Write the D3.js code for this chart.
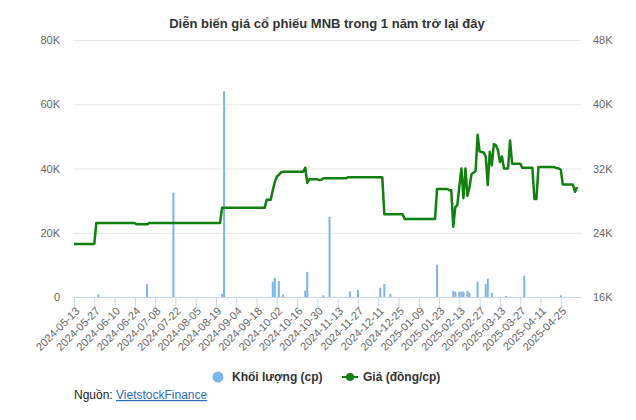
<!DOCTYPE html>
<html><head><meta charset="utf-8">
<script src="https://cdnjs.cloudflare.com/ajax/libs/d3/7.8.5/d3.min.js"></script>
<style>
body{margin:0;background:#fff;}
svg{display:block;font-family:"Liberation Sans",Arial,Helvetica,sans-serif;}
</style></head><body>
<svg id="chart" width="636" height="420"></svg>
<script>
const title = "Diễn biến giá cổ phiếu MNB trong 1 năm trở lại đây";
const tickLabels = ["2024-05-13","2024-05-27","2024-06-10","2024-06-24","2024-07-08","2024-07-22","2024-08-05","2024-08-19","2024-09-04","2024-09-18","2024-10-02","2024-10-16","2024-10-30","2024-11-13","2024-11-27","2024-12-11","2024-12-25","2025-01-09","2025-01-23","2025-02-13","2025-02-27","2025-03-13","2025-03-27","2025-04-11","2025-04-25"];
// price, thousand VND per share, one value per trading day
const priceK = [
22.6,22.6,22.6,22.6,22.6,22.6,22.6,22.6,22.6,22.6,
22.6,25.2,25.2,25.2,25.2,25.2,25.2,25.2,25.2,25.2,
25.2,25.2,25.2,25.2,25.2,25.2,25.2,25.2,25.2,25.2,
25.2,25.05,25.05,25.05,25.05,25.05,25.05,25.2,25.2,25.2,
25.2,25.2,25.2,25.2,25.2,25.2,25.2,25.2,25.2,25.2,
25.2,25.2,25.2,25.2,25.2,25.2,25.2,25.2,25.2,25.2,
25.2,25.2,25.2,25.2,25.2,25.2,25.2,25.2,25.2,25.2,
25.2,25.2,25.2,27.1,27.1,27.1,27.1,27.1,27.1,27.1,
27.1,27.1,27.1,27.1,27.1,27.1,27.1,27.1,27.1,27.1,
27.1,27.1,27.1,27.1,27.1,28.1,28.1,28.1,29.3,30.3,
31.0,31.2,31.5,31.6,31.6,31.6,31.6,31.6,31.6,31.6,
31.6,31.6,31.6,31.6,32.1,30.2,30.65,30.65,30.65,30.65,
30.65,30.55,30.6,30.78,30.78,30.78,30.78,30.78,30.78,30.78,
30.78,30.78,30.78,30.78,30.78,30.9,30.9,30.9,30.9,30.9,
30.9,30.9,30.9,30.9,30.9,30.9,30.9,30.9,30.9,30.9,
30.9,30.9,30.9,26.3,26.3,26.3,26.3,26.3,26.3,26.3,
26.3,26.3,26.3,25.7,25.7,25.7,25.7,25.7,25.7,25.7,
25.7,25.7,25.7,25.7,25.7,25.7,25.7,25.7,25.7,29.45,
29.45,29.45,29.45,29.45,29.45,29.3,29.3,24.75,27.2,27.45,
29.8,32.0,28.3,32.0,28.6,29.7,31.3,31.5,31.7,36.2,
34.1,34.05,34.0,33.5,29.95,34.1,32.4,35.05,34.9,34.3,
32.8,33.5,32.0,32.0,32.0,35.5,32.6,32.6,32.6,32.6,
32.6,32.1,32.1,32.1,32.1,32.1,32.1,28.2,28.2,32.2,
32.2,32.2,32.2,32.2,32.2,32.2,32.2,32.15,32.05,32.0,
31.85,30.0,30.0,30.0,30.0,30.0,30.0,29.1,29.7
];
// volume, thousand shares, one value per trading day
const volumeK = [
0,0,0,0,0,0,0,0,0,0,
0,0,0.8,0,0,0,0,0,0,0,
0,0,0,0,0,0,0,0,0,0,
0,0,0,0,0,0,4.0,0,0,0,
0,0,0,0,0,0,0,0,0,32.5,
0,0,0,0,0,0,0,0,0,0,
0,0,0,0,0,0,0,0,0,0,
0,0,0,1.0,64.0,0,0,0,0,0,
0,0,0,0,0,0,0,0,0,0,
0,0,0,0,0,0,0,0,4.8,6.0,
0,5.0,0,0.8,0,0,0,0,0,0,
0,0,0,0,2.0,7.8,0,0,0,0,
0,0,0,0.5,0,0,25.0,0,0,0,
0,0,0,0,0,0,1.7,0,0,0,
2.2,0,0,0,0,0,0,0,0,0,
0,2.9,0,4.0,0,0,0.9,0,0,0,
0,0,0,0,0,0,0,0,0,0,
0,0,0,0,0,0,0,0,0,10.0,
0,0,0,0,0,0,0,1.9,1.6,0,
1.6,1.7,1.6,0,1.9,1.3,0,0,0,4.8,
0,0,0,4.0,5.7,0,1.3,0,0,0,
0,0,0,0.3,0,0,0,0,0,0,
0,0,6.6,0,0,0,0,0,0,0,
0,0,0,0,0,0,0,0,0,0,
0.5,0,0,0,0,0,0,0,0
];
const volumeTicks = [0,20,40,60,80];
const priceTicks = [16,24,32,40,48];
const legendLabels = ["Khối lượng (cp)","Giá (đồng/cp)"];

const svg = d3.select("#chart");
const L = 73, R = 581, T = 40, B = 297;
const colVol = "#7cb5ec", colPrice = "#108010";

const x = d3.scaleLinear().domain([0, priceK.length - 1]).range([74, 577]);
const yV = d3.scaleLinear().domain([0, 80]).range([B, T]);
const yP = d3.scaleLinear().domain([16, 48]).range([B, T]);

svg.append("text").attr("x", 327).attr("y", 28).attr("text-anchor", "middle")
  .attr("font-size", 13).attr("font-weight", "bold").attr("fill", "#333").text(title);

// gridlines + left axis
const gl = svg.append("g").attr("transform", `translate(${L},0)`)
  .call(d3.axisLeft(yV).tickValues(volumeTicks).tickSize(-(R - L)).tickPadding(13).tickFormat(d => d === 0 ? "0" : d + "K"));
gl.select(".domain").remove();
gl.selectAll(".tick line").attr("stroke", "#e6e6e6");
gl.selectAll(".tick text").attr("fill", "#666").attr("font-size", 11).attr("font-family", null);

const gr = svg.append("g").attr("transform", `translate(${R},0)`)
  .call(d3.axisRight(yP).tickValues(priceTicks).tickSize(0).tickPadding(12).tickFormat(d => d + "K"));
gr.select(".domain").remove();
gr.selectAll(".tick text").attr("fill", "#666").attr("font-size", 11).attr("font-family", null);

// volume bars
svg.append("g").selectAll("rect").data(volumeK).join("rect")
  .attr("x", (d, i) => x(i) - 1).attr("width", 2)
  .attr("y", d => yV(d)).attr("height", d => B - yV(d))
  .attr("fill", colVol);

// x axis
svg.append("line").attr("x1", L).attr("x2", R).attr("y1", B + 0.5).attr("y2", B + 0.5).attr("stroke", "#ccd6eb");
const gx = svg.append("g").attr("transform", `translate(0,${B})`)
  .call(d3.axisBottom(x).tickValues(d3.range(0, tickLabels.length * 10, 10)).tickSize(10).tickFormat(i => tickLabels[i / 10]));
gx.select(".domain").remove();
gx.selectAll(".tick line").attr("stroke", "#ccd6eb");
gx.selectAll(".tick text").attr("fill", "#666").attr("font-size", 11).attr("font-family", null)
  .attr("text-anchor", "end").attr("x", 0).attr("y", 0).attr("dy", "0.35em")
  .attr("transform", "translate(3,12) rotate(-45)");

// price line
svg.append("path").datum(priceK)
  .attr("d", d3.line().x((d, i) => x(i)).y(d => yP(d)))
  .attr("fill", "none").attr("stroke", colPrice).attr("stroke-width", 2.5).attr("stroke-linejoin", "round");

// legend
const lg = svg.append("g").attr("font-size", 12).attr("font-weight", "bold").attr("fill", "#333");
lg.append("circle").attr("cx", 218).attr("cy", 377).attr("r", 5.5).attr("fill", colVol);
lg.append("text").attr("x", 232).attr("y", 381).text(legendLabels[0]);
lg.append("line").attr("x1", 342).attr("x2", 358).attr("y1", 377).attr("y2", 377).attr("stroke", colPrice).attr("stroke-width", 2);
lg.append("circle").attr("cx", 350).attr("cy", 377).attr("r", 4).attr("fill", colPrice);
lg.append("text").attr("x", 363).attr("y", 381).text(legendLabels[1]);

// source
const src = svg.append("text").attr("x", 74).attr("y", 399).attr("font-size", 12).attr("fill", "#222");
src.append("tspan").text("Nguồn: ");
src.append("tspan").attr("fill", "#2a6ebb").attr("text-decoration", "underline").text("VietstockFinance");
</script>
</body></html>
